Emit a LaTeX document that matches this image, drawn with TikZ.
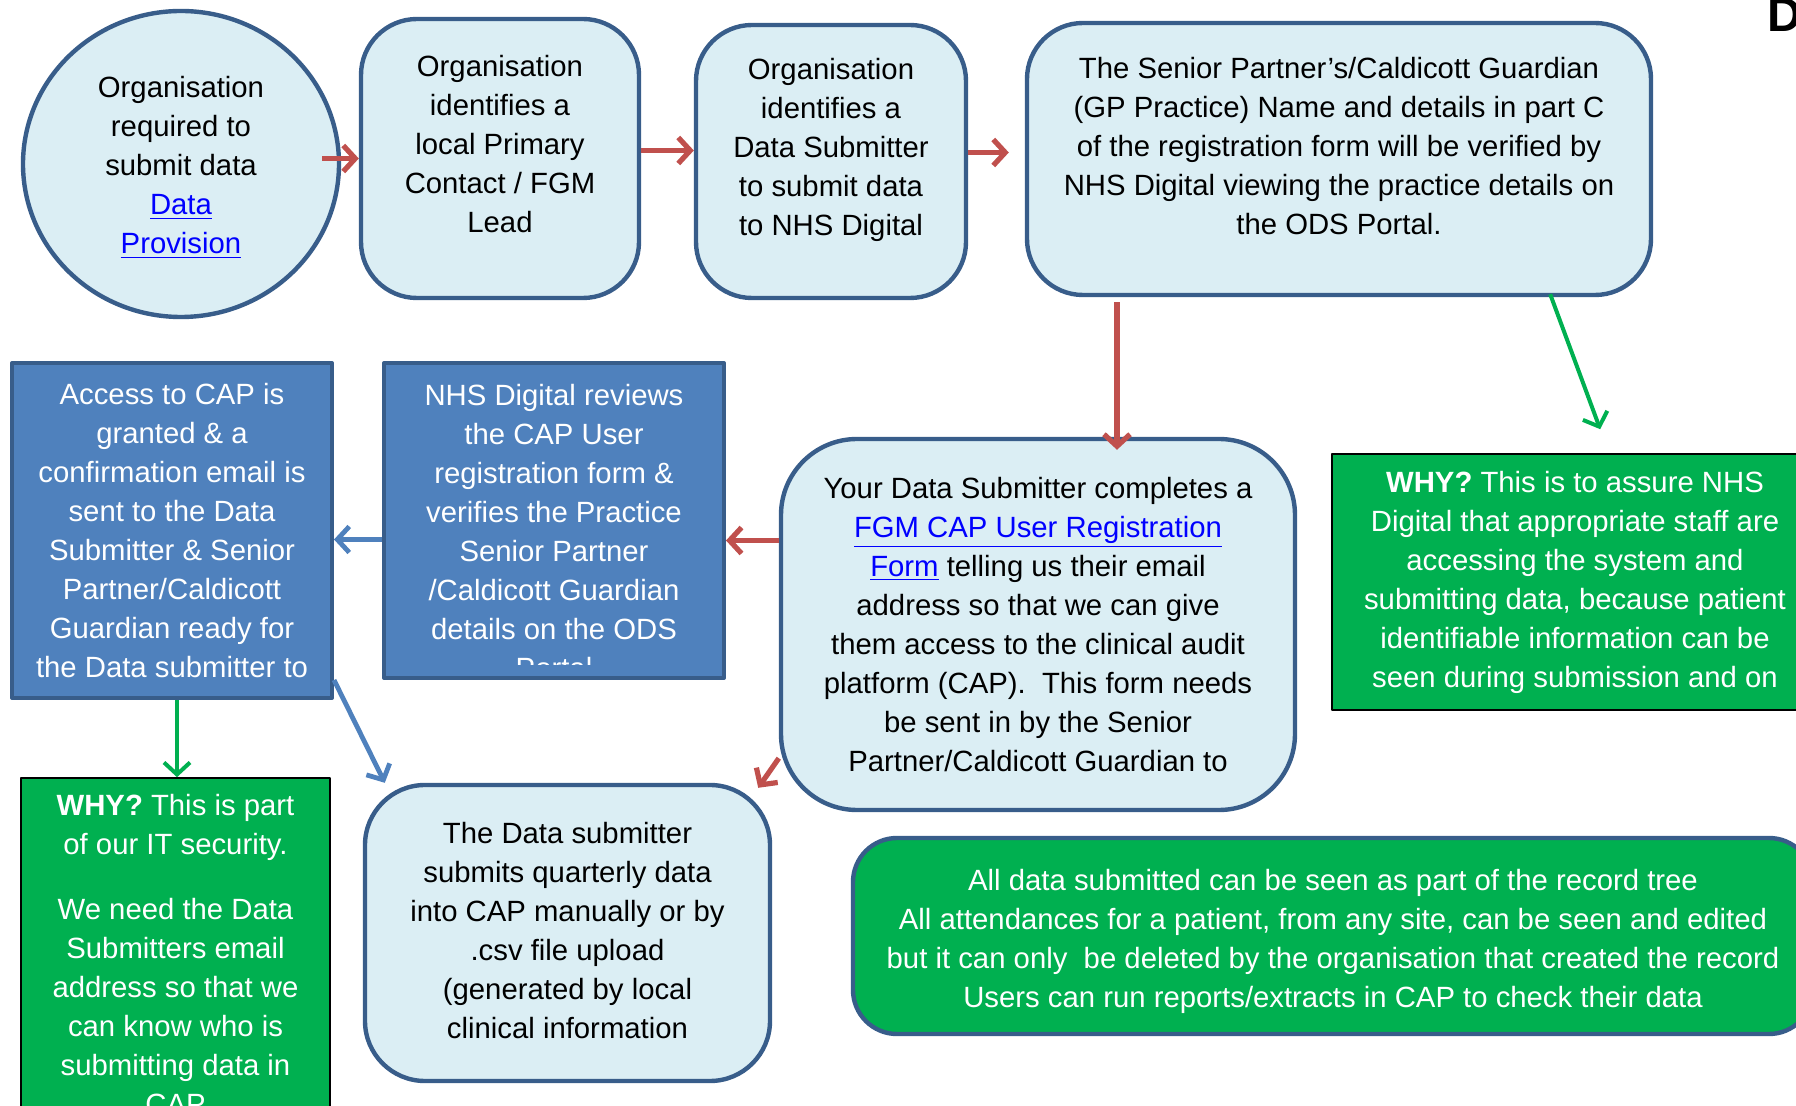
\documentclass[tikz,border=0pt]{standalone}
\usepackage{fontspec}
\setmainfont{Liberation Sans}
\usetikzlibrary{shapes.geometric,arrows.meta}
\definecolor{boxfill}{HTML}{DBEEF4}
\definecolor{boxline}{HTML}{385D8A}
\definecolor{darkfill}{HTML}{4F81BD}
\definecolor{whygreen}{HTML}{00B050}
\definecolor{arrowred}{HTML}{C0504D}
\definecolor{linkblue}{HTML}{0000FF}
\newcommand{\weblink}[1]{\textcolor{linkblue}{\underline{#1}}}
\begin{document}
\begin{tikzpicture}[x=0.5pt,y=-0.5pt,font=\fontsize{14.65pt}{19.5pt}\selectfont,line join=round,>={Straight Barb[length=6pt,width=13pt]},
  lightbox/.style={draw=boxline,line width=2.2pt,fill=boxfill,rounded corners=28pt,align=center,inner sep=0pt},
  bluebox/.style={draw=boxline,line width=2pt,fill=darkfill,text=white,align=center,inner sep=0pt},
  whybox/.style={draw=black,line width=0.8pt,fill=whygreen,text=white,align=center,inner sep=0pt},
  redarrow/.style={->,draw=arrowred,line width=2.6pt},
  bluearrow/.style={->,draw=darkfill,line width=2.4pt},
  greenarrow/.style={->,draw=whygreen,line width=2pt}]
\useasboundingbox (0,0) rectangle (1796,1106);

\node[lightbox,ellipse,sharp corners,minimum width=158pt,minimum height=153pt] (org) at (181,164) {};
\node[align=center] (orgtext) at ([yshift=-1.7pt]org.center) {Organisation\\required to\\submit data\\\weblink{Data}\\\weblink{Provision}};
\node[lightbox,minimum width=139pt,minimum height=139.5pt] (ident) at (500,158.5) {};
\node[align=center] (identtext) at ([yshift=7pt]ident.center) {Organisation\\identifies a\\local Primary\\Contact / FGM\\Lead};
\node[lightbox,minimum width=135pt,minimum height=136.5pt] (subm) at (831,161.5) {};
\node[align=center] (submtext) at ([yshift=6pt]subm.center) {Organisation\\identifies a\\Data Submitter\\to submit data\\to NHS Digital};
\node[lightbox,minimum width=312pt,minimum height=136pt] (verify) at (1339,159) {};
\node[align=center] (verifytext) at ([yshift=6.5pt]verify.center) {The Senior Partner’s/Caldicott Guardian\\(GP Practice) Name and details in part C\\of the registration form will be verified by\\NHS Digital viewing the practice details on\\the ODS Portal.};
\node[anchor=base west,inner sep=0pt,font=\bfseries\fontsize{24pt}{24pt}\selectfont] (title) at (1767,32) {D};

\node[lightbox,rounded corners=38pt,minimum width=257pt,minimum height=185.5pt] (yds) at (1038,624.5) {Your Data Submitter completes a\\\weblink{FGM CAP User Registration}\\\weblink{Form} telling us their email\\address so that we can give\\them access to the clinical audit\\platform (CAP).~ This form needs\\be sent in by the Senior\\Partner/Caldicott Guardian to};
\node[whybox,minimum width=243pt,minimum height=128pt] (rightwhy) at (1575,582) {\textbf{WHY?} This is to assure NHS\\Digital that appropriate staff are\\accessing the system and\\submitting data, because patient\\identifiable information can be\\seen during submission and on};
\node[bluebox,minimum width=170pt,minimum height=157.5pt] (review) at (554,520.5) {};
\begin{scope}
\clip (review.north west) rectangle ([yshift=7.5pt]review.south east);
\node[align=center,text=white] (reviewtext) at ([yshift=-5.4pt]review.center) {NHS Digital reviews\\the CAP User\\registration form \&\\verifies the Practice\\Senior Partner\\/Caldicott Guardian\\details on the ODS\\Portal};
\end{scope}
\node[bluebox,minimum width=160pt,minimum height=167.5pt] (access) at (172,530.5) {Access to CAP is\\granted \& a\\confirmation email is\\sent to the Data\\Submitter \& Senior\\Partner/Caldicott\\Guardian ready for\\the Data submitter to};

\node[whybox,minimum width=154.5pt,minimum height=176.5pt] (leftwhy) at (175.5,954.5) {\textbf{WHY?} This is part\\of our IT security.\\[13pt]We need the Data\\Submitters email\\address so that we\\can know who is\\submitting data in\\CAP};
\node[lightbox,rounded corners=30pt,minimum width=202.5pt,minimum height=148pt] (ds) at (567.5,933) {};
\node[align=center] (dstext) at ([yshift=1pt]ds.center) {The Data submitter\\submits quarterly data\\into CAP manually or by\\.csv file upload\\(generated by local\\clinical information};
\node[lightbox,fill=whygreen,rounded corners=22pt,minimum width=480pt,minimum height=98pt] (note) at (1333,936) {};
\node[align=center,text=white] (notetext) at ([yshift=-2.8pt]note.center) {All data submitted can be seen as part of the record tree\\All attendances for a patient, from any site, can be seen and edited\\but it can only~ be deleted by the organisation that created the record\\Users can run reports/extracts in CAP to check their data};

\draw[redarrow] ([xshift=-9.5pt]org.east |- ident.west) -- (ident.west);
\draw[redarrow] ([yshift=4pt]ident.east) -- ([yshift=4pt]ident.east -| subm.west);
\draw[redarrow,shorten >=8pt] ([yshift=4.5pt]subm.east) -- ([yshift=4.5pt]subm.east -| verify.west);
\draw[redarrow,shorten <=2.5pt] ([xshift=39.5pt]yds.north |- verify.south) -- ([xshift=39.5pt,yshift=-6.5pt]yds.north);
\draw[greenarrow] ([xshift=-51.5pt,yshift=1.5pt]verify.south east) -- ([xshift=134.5pt,yshift=12pt]rightwhy.north west);
\draw[redarrow] ([yshift=-10pt]review.east -| yds.west) -- ([yshift=-10pt]review.east);
\draw[bluearrow] ([yshift=-9.5pt]review.west) -- ([yshift=-9.5pt]review.west -| access.east);
\draw[greenarrow] ([xshift=2.5pt]access.south) -- ([xshift=2.5pt]access.south |- leftwhy.north);
\draw[bluearrow] ([yshift=10pt]access.south east) -- ([xshift=11pt]ds.north west);
\draw[redarrow] ([yshift=27pt]yds.south west) -- ([xshift=-7pt,yshift=-2.5pt]ds.north east);
\end{tikzpicture}
\end{document}
